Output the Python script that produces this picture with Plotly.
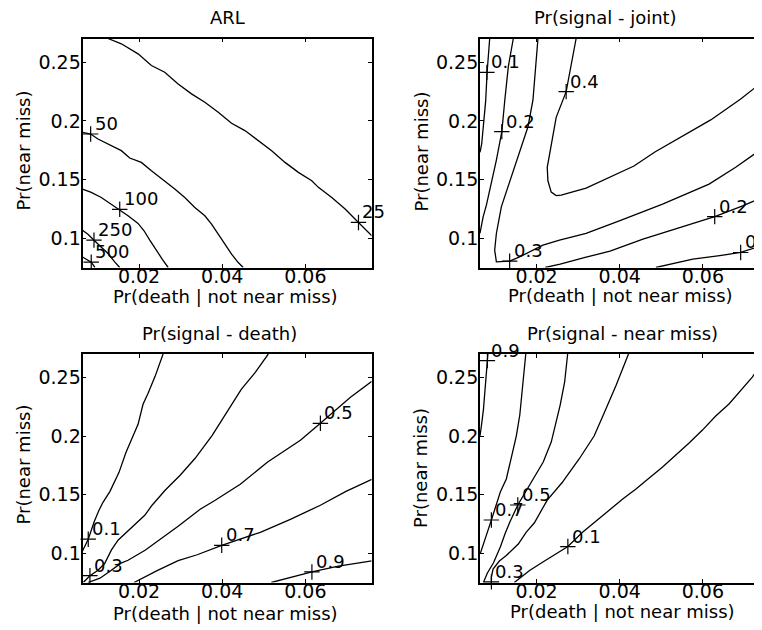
import plotly.graph_objects as go

OFF = 8                      # default page margin of the html body
W, H = 762 - OFF, 630 - OFF  # figure size so the page fits the window
FONT = "DejaVu Sans"
FS = 18
FS_TICK = 19

# ---------------- axes / text data ----------------
x_ticks = [0.02, 0.04, 0.06]
x_tick_text = ["0.02", "0.04", "0.06"]
y_ticks = [0.1, 0.15, 0.2, 0.25]
y_tick_text = ["0.1", "0.15", "0.2", "0.25"]
x_range_left = [0.0064, 0.0759]
x_range_right = [0.0064, 0.07422]
y_range = [0.075, 0.2702]

titles = ["ARL", "Pr(signal - joint)", "Pr(signal - death)", "Pr(signal - near miss)"]
x_title = "Pr(death | not near miss)"
y_title = "Pr(near miss)"

# ---------------- ARL contours ----------------
arl_25_x = [0.01253, 0.01574, 0.01976, 0.02297, 0.02618, 0.02940, 0.03261, 0.03582, 0.03904, 0.04225, 0.04546,
            0.04867, 0.05189, 0.05510, 0.05831, 0.06153, 0.06313, 0.06634, 0.06956, 0.07277, 0.07438, 0.07598]
arl_25_y = [0.2702, 0.2657, 0.2571, 0.2472, 0.2415, 0.2315, 0.2230, 0.2158, 0.2073, 0.1979, 0.1917,
            0.1831, 0.1746, 0.1646, 0.1561, 0.1490, 0.1433, 0.1347, 0.1248, 0.1134, 0.1077, 0.1020]
arl_50_x = [0.0064, 0.00835, 0.01012, 0.01333, 0.01574, 0.01775, 0.02056, 0.02297, 0.02618, 0.02859, 0.03100,
            0.03341, 0.03582, 0.03743, 0.03904, 0.04064, 0.04225, 0.04385, 0.04506]
arl_50_y = [0.1902, 0.1888, 0.1845, 0.1789, 0.1746, 0.1683, 0.1646, 0.1575, 0.1490, 0.1419, 0.1347,
            0.1262, 0.1191, 0.1120, 0.1034, 0.0949, 0.0864, 0.0792, 0.0750]
arl_100_x = [0.0064, 0.00851, 0.01092, 0.01333, 0.01534, 0.01735, 0.01976, 0.02120, 0.02258, 0.02420, 0.02560, 0.02700]
arl_100_y = [0.1419, 0.1390, 0.1347, 0.1290, 0.1246, 0.1191, 0.1126, 0.1063, 0.0983, 0.0890, 0.0820, 0.0750]
arl_250_x = [0.0064, 0.00771, 0.00916, 0.01092, 0.01253, 0.01414, 0.01535]
arl_250_y = [0.1068, 0.1034, 0.0983, 0.0926, 0.0869, 0.0798, 0.0750]
arl_500_x = [0.0064, 0.00723, 0.0085, 0.0094]
arl_500_y = [0.0840, 0.0821, 0.0795, 0.0750]
arl_lab_text = ["50", "100", "250", "500", "25"]
arl_lab_x = [0.00836, 0.01535, 0.00916, 0.0085, 0.07277]
arl_lab_y = [0.1888, 0.1246, 0.0983, 0.0795, 0.1134]

# ---------------- Pr(signal - joint) contours ----------------
jt_01a_x = [0.00873, 0.00842, 0.00811, 0.00777, 0.00729, 0.00681, 0.0064]
jt_01a_y = [0.2702, 0.2571, 0.2415, 0.2172, 0.1945, 0.1803, 0.1732]
jt_02a_x = [0.01441, 0.01321, 0.01237, 0.01165, 0.01034, 0.00914, 0.00794, 0.00715, 0.0064]
jt_02a_y = [0.2702, 0.2462, 0.2178, 0.1908, 0.1666, 0.1467, 0.1282, 0.1182, 0.1043]
jt_03_x = [0.02034, 0.01976, 0.01914, 0.01794, 0.01554, 0.01353, 0.01153, 0.01034, 0.00993, 0.01034, 0.01353,
           0.01592, 0.02153, 0.02552, 0.03192, 0.03990, 0.05031, 0.06149, 0.06789, 0.07412, 0.0759]
jt_03_y = [0.2702, 0.2462, 0.2178, 0.1950, 0.1694, 0.1495, 0.1267, 0.1040, 0.0898, 0.0798, 0.0804,
           0.0840, 0.0940, 0.0983, 0.1040, 0.1148, 0.1290, 0.1461, 0.1604, 0.1760, 0.1803]
jt_04_x = [0.02952, 0.02832, 0.02712, 0.02472, 0.02353, 0.02257, 0.02273, 0.02353, 0.02472, 0.02592, 0.03192,
           0.03767, 0.04343, 0.04846, 0.05350, 0.06189, 0.06909, 0.07412, 0.0759]
jt_04_y = [0.2702, 0.2486, 0.2249, 0.2030, 0.1803, 0.1604, 0.1489, 0.1393, 0.1363, 0.1367, 0.1427,
           0.1521, 0.1615, 0.1734, 0.1837, 0.2008, 0.2187, 0.2332, 0.2375]
jt_02b_x = [0.02209, 0.02568, 0.03192, 0.03767, 0.04559, 0.05350, 0.06285, 0.06957, 0.07412, 0.0759]
jt_02b_y = [0.0750, 0.0778, 0.0838, 0.0889, 0.0991, 0.1077, 0.1184, 0.1276, 0.1346, 0.1371]
jt_01b_x = [0.04870, 0.05326, 0.05758, 0.06405, 0.06909, 0.07412, 0.0759]
jt_01b_y = [0.0750, 0.0787, 0.0821, 0.0851, 0.0878, 0.0936, 0.0957]
jt_lab_text = ["0.1", "0.2", "0.4", "0.3", "0.2", "0.1"]
jt_lab_x = [0.00806, 0.01165, 0.02712, 0.01353, 0.06285, 0.06909]
jt_lab_y = [0.2413, 0.1908, 0.2249, 0.0804, 0.1184, 0.0878]

# ---------------- Pr(signal - death) contours ----------------
dt_01_x = [0.02578, 0.02386, 0.02217, 0.02096, 0.01976, 0.01819, 0.01687, 0.01518, 0.01301, 0.01133, 0.01036,
           0.00916, 0.00778, 0.0064]
dt_01_y = [0.2702, 0.2511, 0.2366, 0.2272, 0.2101, 0.1964, 0.1862, 0.1691, 0.1529, 0.1435, 0.1367,
           0.1265, 0.1120, 0.1020]
dt_03_x = [0.05108, 0.04795, 0.04458, 0.04145, 0.03759, 0.03349, 0.02988, 0.02627, 0.02313, 0.02137, 0.01735,
           0.01494, 0.01333, 0.01173, 0.01012, 0.00819, 0.00663]
dt_03_y = [0.2702, 0.2545, 0.2400, 0.2229, 0.2007, 0.1811, 0.1666, 0.1538, 0.1410, 0.1324, 0.1196,
           0.1111, 0.1026, 0.0912, 0.0855, 0.0808, 0.0752]
dt_05_x = [0.07598, 0.07084, 0.06361, 0.05880, 0.05084, 0.04434, 0.03831, 0.03470, 0.02940, 0.02506, 0.02145,
           0.01735, 0.01566, 0.01301, 0.01060, 0.00771]
dt_05_y = [0.2468, 0.2332, 0.2110, 0.1965, 0.1777, 0.1589, 0.1452, 0.1376, 0.1231, 0.1120, 0.1026,
           0.0940, 0.0915, 0.0846, 0.0787, 0.0750]
dt_07_x = [0.07598, 0.06976, 0.06361, 0.05639, 0.04916, 0.04434, 0.03988, 0.03398, 0.02940, 0.02434, 0.01880]
dt_07_y = [0.1632, 0.1529, 0.1410, 0.1290, 0.1179, 0.1120, 0.1068, 0.0987, 0.0936, 0.0851, 0.0750]
dt_09_x = [0.05181, 0.05639, 0.06157, 0.06795, 0.07598]
dt_09_y = [0.0750, 0.0795, 0.0840, 0.0889, 0.0934]
dt_lab_text = ["0.1", "0.3", "0.5", "0.7", "0.9"]
dt_lab_x = [0.00778, 0.00819, 0.06361, 0.03988, 0.06157]
dt_lab_y = [0.1120, 0.0808, 0.2110, 0.1068, 0.0840]

# ---------------- Pr(signal - near miss) contours ----------------
nm_09_x = [0.0083, 0.00777, 0.00722, 0.00674, 0.0064]
nm_09_y = [0.2702, 0.2462, 0.2225, 0.2089, 0.2003]
nm_07_x = [0.01741, 0.01674, 0.01597, 0.01513, 0.01393, 0.01273, 0.01129, 0.01034, 0.00914, 0.00794, 0.00710, 0.0065]
nm_07_y = [0.2702, 0.2463, 0.2181, 0.2001, 0.1830, 0.1634, 0.1523, 0.1412, 0.1284, 0.1155, 0.1070, 0.1002]
nm_05_x = [0.02748, 0.02676, 0.02568, 0.02472, 0.02353, 0.02161, 0.01993, 0.01837, 0.01681, 0.01549, 0.01369,
           0.01249, 0.01129, 0.00962, 0.00818, 0.00722]
nm_05_y = [0.2702, 0.2463, 0.2266, 0.2121, 0.1950, 0.1779, 0.1677, 0.1583, 0.1489, 0.1412, 0.1275,
           0.1173, 0.1053, 0.0916, 0.0831, 0.0750]
nm_03_x = [0.04211, 0.03911, 0.03600, 0.03384, 0.03024, 0.02616, 0.02257, 0.02089, 0.01945, 0.01753, 0.01561,
           0.01273, 0.01106, 0.00954, 0.00914, 0.00914]
nm_03_y = [0.2702, 0.2433, 0.2176, 0.2001, 0.1805, 0.1604, 0.1454, 0.1352, 0.1258, 0.1181, 0.1079,
           0.0980, 0.0933, 0.0865, 0.0797, 0.0750]
nm_01_x = [0.07508, 0.07412, 0.07189, 0.06868, 0.06628, 0.06309, 0.05990, 0.05669, 0.05350, 0.05031, 0.04710,
           0.04391, 0.04072, 0.03751, 0.03432, 0.03113, 0.02753, 0.02472, 0.02153, 0.01832, 0.01554, 0.01465]
nm_01_y = [0.2702, 0.2616, 0.2505, 0.2377, 0.2275, 0.2172, 0.2052, 0.1941, 0.1839, 0.1736, 0.1642,
           0.1548, 0.1463, 0.1369, 0.1275, 0.1181, 0.1057, 0.0997, 0.0925, 0.0852, 0.0780, 0.0750]
nm_lab_text = ["0.9", "0.7", "0.5", "0.3", "0.1"]
nm_lab_x = [0.00818, 0.00914, 0.01549, 0.00914, 0.02753]
nm_lab_y = [0.2646, 0.1284, 0.1412, 0.0755, 0.1057]

panels = [
    dict(lines=[(arl_25_x, arl_25_y), (arl_50_x, arl_50_y), (arl_100_x, arl_100_y),
                (arl_250_x, arl_250_y), (arl_500_x, arl_500_y)],
         lab=(arl_lab_x, arl_lab_y, arl_lab_text)),
    dict(lines=[(jt_01a_x, jt_01a_y), (jt_02a_x, jt_02a_y), (jt_03_x, jt_03_y), (jt_04_x, jt_04_y),
                (jt_02b_x, jt_02b_y), (jt_01b_x, jt_01b_y)],
         lab=(jt_lab_x, jt_lab_y, jt_lab_text)),
    dict(lines=[(dt_01_x, dt_01_y), (dt_03_x, dt_03_y), (dt_05_x, dt_05_y), (dt_07_x, dt_07_y),
                (dt_09_x, dt_09_y)],
         lab=(dt_lab_x, dt_lab_y, dt_lab_text)),
    dict(lines=[(nm_09_x, nm_09_y), (nm_07_x, nm_07_y), (nm_05_x, nm_05_y), (nm_03_x, nm_03_y),
                (nm_01_x, nm_01_y)],
         lab=(nm_lab_x, nm_lab_y, nm_lab_text)),
]

# ---------------- layout geometry (window pixels) ----------------
col_px = [(82.5, 371.5), (480.0, 762.0)]
row_px = [(38.5, 267.5), (354.0, 582.5)]
title_px = [(227, 17.5), (605, 18), (219, 333.5), (622, 333.5)]
xtitle_px = [(225, 296.5), (620, 295.5), (225, 613), (622.7, 611.5)]
ytitle_px = [(22.5, 151), (421, 151.5), (22.5, 465), (420, 468)]


def px2paper(px, py):
    return (px - OFF) / W, 1 - (py - OFF) / H


fig = go.Figure()
layout = dict(width=W, height=H, margin=dict(l=0, r=0, t=0, b=0),
              paper_bgcolor="white", plot_bgcolor="white", showlegend=False,
              font=dict(family=FONT, size=FS, color="black"))
annotations = []
font = dict(family=FONT, size=FS, color="black")
tick_font = dict(family=FONT, size=FS_TICK, color="black")

for i, p in enumerate(panels):
    r, c = divmod(i, 2)
    n = i + 1
    xa = "x" if n == 1 else f"x{n}"
    ya = "y" if n == 1 else f"y{n}"
    x0, x1 = col_px[c]
    y0, y1 = row_px[r]
    xd0, yd1 = px2paper(x0, y0)
    xd1, yd0 = px2paper(x1, y1)
    axis_common = dict(showline=True, linecolor="black", linewidth=1.8, ticks="inside", ticklen=4,
                       tickwidth=1, tickcolor="black", showgrid=False, zeroline=False,
                       tickfont=tick_font)
    layout["xaxis" if n == 1 else f"xaxis{n}"] = dict(
        axis_common, domain=[max(0, xd0), min(1, xd1)], range=x_range_left if c == 0 else x_range_right,
        tickvals=x_ticks, ticktext=x_tick_text, mirror="allticks", anchor=ya, ticklabelstandoff=-9)
    layout["yaxis" if n == 1 else f"yaxis{n}"] = dict(
        axis_common, domain=[max(0, yd0), min(1, yd1)], range=y_range, tickvals=y_ticks,
        ticktext=y_tick_text, mirror="allticks" if c == 0 else False, anchor=xa, ticklabelstandoff=-4)

    for lx, ly in p["lines"]:
        fig.add_trace(go.Scatter(x=lx, y=ly, mode="lines", line=dict(color="black", width=1.3),
                                 xaxis=xa, yaxis=ya, hoverinfo="skip"))
    lab_x, lab_y, lab_t = p["lab"]
    fig.add_trace(go.Scatter(x=lab_x, y=lab_y, mode="markers", cliponaxis=False,
                             marker=dict(symbol="cross-thin", size=11, color="black",
                                         line=dict(color="black", width=1.2)),
                             xaxis=xa, yaxis=ya, hoverinfo="skip"))
    for lx, ly, lt in zip(lab_x, lab_y, lab_t):
        annotations.append(dict(x=lx, y=ly, xref=xa, yref=ya, text=lt, showarrow=False,
                                xanchor="left", yanchor="bottom", xshift=2, yshift=-2, font=font))

    tx, ty = px2paper(*title_px[i])
    annotations.append(dict(x=tx, y=ty, xref="paper", yref="paper", text=titles[i], showarrow=False,
                            xanchor="center", yanchor="middle", font=font))
    tx, ty = px2paper(*xtitle_px[i])
    annotations.append(dict(x=tx, y=ty, xref="paper", yref="paper", text=x_title, showarrow=False,
                            xanchor="center", yanchor="middle", font=font))
    tx, ty = px2paper(*ytitle_px[i])
    annotations.append(dict(x=tx, y=ty, xref="paper", yref="paper", text=y_title, showarrow=False,
                            xanchor="center", yanchor="middle", textangle=-90, font=font))

layout["annotations"] = annotations
fig.update_layout(**layout)
fig.write_html("out.html")
